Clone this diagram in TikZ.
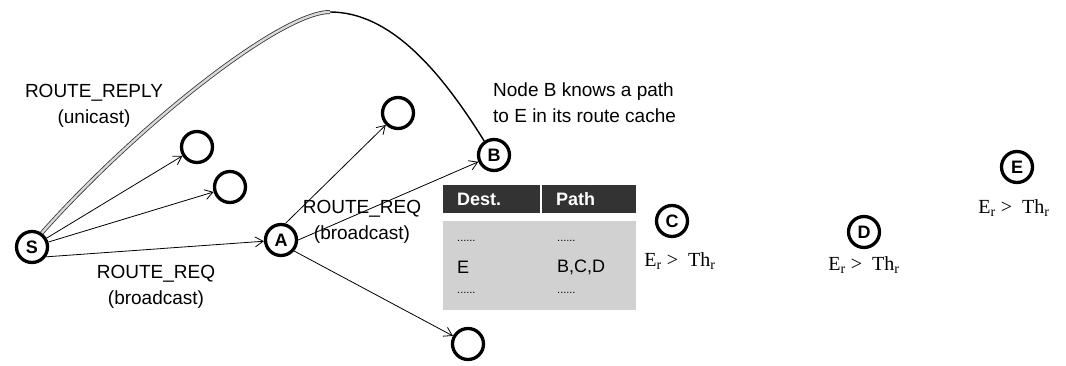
\documentclass[tikz,border=0pt]{standalone}
\usepackage{fontspec}
\setmainfont{Liberation Sans}
\newfontfamily\serifnum{Liberation Serif}
\usetikzlibrary{arrows.meta,decorations.markings}
\definecolor{tabdark}{gray}{0.2}
\definecolor{tabbody}{gray}{0.82}
\tikzset{
  nd/.style={circle, draw, line width=3.3pt, minimum size=31pt, inner sep=0pt, font=\bfseries\fontsize{18}{18}\selectfont},
  arr/.style={line width=0.8pt, -{Straight Barb[length=8pt,width=10pt]}},
  txt/.style={font=\fontsize{19}{26}\selectfont, align=center, inner sep=0pt},
  cond/.style={font=\serifnum\fontsize{20}{20}\selectfont, inner sep=0pt},
  tabtxt/.style={font=\fontsize{18}{18}\selectfont, anchor=west, inner sep=0pt},
  tabdots/.style={font=\fontsize{11}{11}\selectfont, anchor=west, inner sep=0pt},
  tabhead/.style={font=\bfseries\fontsize{18}{18}\selectfont, text=white, anchor=west, inner sep=0pt},
}
\begin{document}
\begin{tikzpicture}[x=1pt,y=-1pt]
\useasboundingbox (0,0) rectangle (1066,366);
% nodes
\node[nd] (S) at (32,247) {S};
\node[nd] (c1) at (197,147) {};
\node[nd] (c2) at (230,187) {};
\node[nd] (A) at (281,240) {A};
\node[nd] (ct) at (398,113) {};
\node[nd] (B) at (494,155) {B};
\node[nd] (cb) at (468,344) {};
\node[nd] (C) at (672,221) {C};
\node[nd] (D) at (864,232) {D};
\node[nd] (E) at (1017,167) {E};
% route request arrows
\draw[arr] (S) -- (c1);
\draw[arr] (S) -- (c2);
\draw[arr] (S.-35) -- (A);
\draw[arr] (A.75) -- (ct);
\draw[arr] (A.east) -- (B);
\draw[arr] (A.-40) -- (cb);
% route reply curve
\coordinate (peak) at (330,12);
\draw[line width=1.4pt] (B.125) .. controls (440,70) and (390,12) .. (peak);
\draw[draw=black!80, double=gray!30, double distance=2.4pt, line width=0.8pt,
      postaction={decorate},
      decoration={markings, mark=at position 1 with {\arrow[black]{Triangle[length=13pt,width=12pt]}}}]
  (peak) .. controls (280,12) and (135,128) .. (S.55);
% labels
\node[txt] (lreply) at (94,106) {ROUTE\_REPLY\\(unicast)};
\node[txt, align=left, anchor=west] (lnodeb) at (493,103) {Node B knows a path\\to E in its route cache};
\node[txt] (lreq1) at (362,222) {ROUTE\_REQ\\(broadcast)};
\node[txt] (lreq2) at (156,287) {ROUTE\_REQ\\(broadcast)};
% table
\fill[tabdark] (443,185) rectangle (636,213);
\draw[white, line width=1.2pt] (541,185) -- (541,213);
\fill[tabbody] (443,221) rectangle (636,310);
\node[tabhead] (hdest) at (457,199) {Dest.};
\node[tabhead] (hpath) at (556,199) {Path};
\node[tabdots] (d1) at (457,241) {......};
\node[tabdots] (p1) at (557,241) {......};
\node[tabtxt] (d2) at (457,267) {E};
\node[tabtxt] (p2) at (557,267) {B,C,D};
\node[tabdots] (d3) at (457,293) {......};
\node[tabdots] (p3) at (557,293) {......};
% conditions
\node[cond] (condC) at (680,261) {E\textsubscript{r} >\ \ Th\textsubscript{r}};
\node[cond] (condD) at (864,265) {E\textsubscript{r} >\ \ Th\textsubscript{r}};
\node[cond] (condE) at (1014,208) {E\textsubscript{r} >\ \ Th\textsubscript{r}};
\end{tikzpicture}
\end{document}
